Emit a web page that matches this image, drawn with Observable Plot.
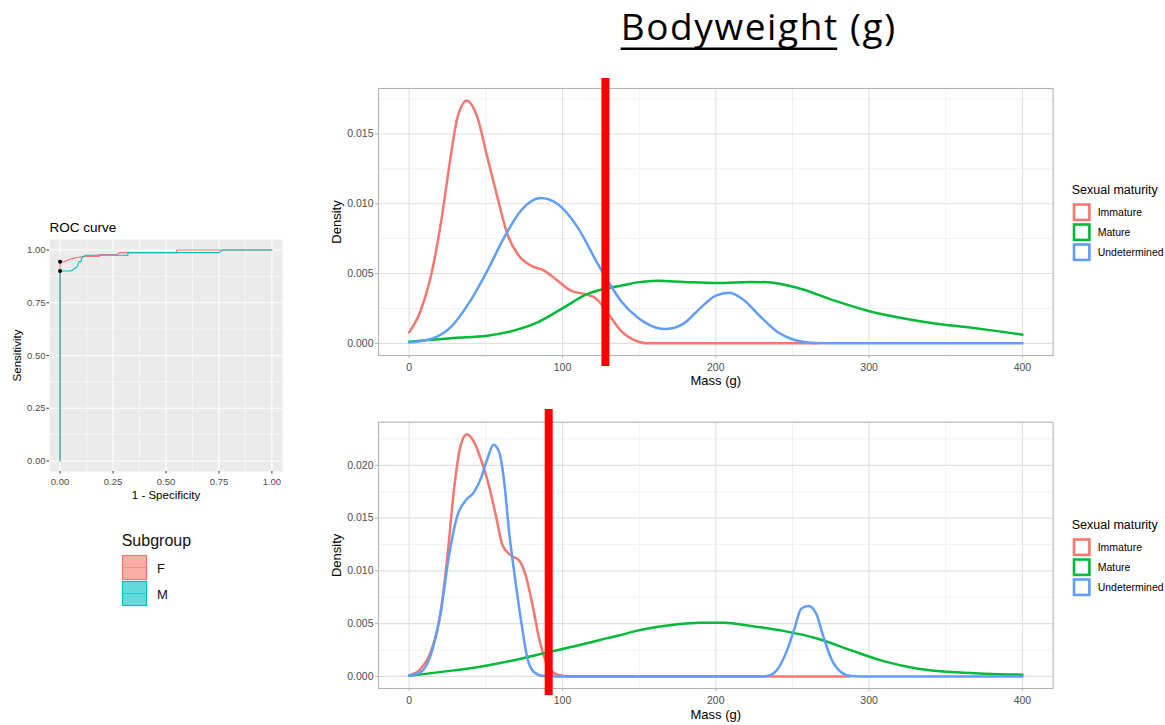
<!DOCTYPE html>
<html>
<head>
<meta charset="utf-8">
<script src="https://cdn.jsdelivr.net/npm/d3@7"></script>
<script src="https://cdn.jsdelivr.net/npm/@observablehq/plot@0.6"></script>
<style>
  html, body { margin: 0; padding: 0; background: #fff; }
  #page { position: relative; width: 1165px; height: 725px; overflow: hidden; font-family: 'Liberation Sans', Arial, sans-serif; }
  .panel { position: absolute; }
  #overlay { position: absolute; left: 0; top: 0; pointer-events: none; }
</style>
</head>
<body>
<div id="page"></div>
<script>
// ---- Slide title ----
const titleMain = "Bodyweight";
const titleUnit = "(g)";

// ---- Density panels: sexual maturity classes ----
const maturityClasses = ["Immature", "Mature", "Undetermined"];
const maturityColors = ["#F8766D", "#00BA38", "#619CFF"];
const maturityLegendTitle = "Sexual maturity";
const massLabel = "Mass (g)";
const densityLabel = "Density";
const massTicks = [0, 100, 200, 300, 400];
const massMinor = [50, 150, 250, 350];

// Upper panel (mass, density)
const topImmature = [[0,0.00079],[7.5,0.00234],[14,0.00473],[20.6,0.00855],[27,0.01332],[31.5,0.01619],[37.6,0.01739],[44.5,0.01619],[51,0.01332],[57.6,0.01046],[64,0.00784],[70.7,0.0064],[79.4,0.00557],[88,0.00521],[96.8,0.00449],[105.5,0.00378],[114,0.00354],[120.7,0.0033],[127,0.00258],[131.6,0.00186],[138,0.00091],[146.8,0.00024],[155.6,0],[267,0]];
const topMature = [[0,0.00012],[29,0.00039],[51,0.00055],[66.3,0.00086],[83.7,0.0015],[101,0.00258],[116.4,0.00354],[127.3,0.0039],[138,0.00413],[149,0.00437],[162,0.00449],[179.5,0.0044],[201,0.00432],[223,0.0044],[234,0.00437],[244.8,0.0042],[255.7,0.0039],[277.5,0.00306],[299,0.00234],[321,0.00182],[342.8,0.00143],[364.6,0.00115],[386,0.00084],[400,0.00062]];
const topUndetermined = [[0,0.00007],[14,0.00031],[27,0.00115],[40,0.00306],[51,0.00521],[62,0.00759],[72.8,0.0095],[85.9,0.01041],[96.8,0.00998],[109.9,0.00831],[123,0.00569],[129.5,0.00449],[138,0.00306],[149,0.00186],[158,0.00125],[166.4,0.00103],[173,0.00112],[179.5,0.00145],[190.4,0.00258],[200,0.00342],[208.9,0.00363],[218.7,0.00306],[229.6,0.00186],[240.5,0.00079],[251.3,0.00024],[264,0.00003],[280,0],[400,0]];
const topDensityTicks = [0, 0.005, 0.010, 0.015];
const topDensityMinor = [0.0025, 0.0075, 0.0125, 0.0175];

// Lower panel (mass, density)
const bottomImmature = [[0,0.0001],[7.5,0.00073],[14,0.0023],[20.6,0.0061],[25,0.01147],[29.3,0.0178],[33.6,0.0219],[37.6,0.02294],[42.3,0.0222],[46.7,0.02063],[52,0.0181],[56.5,0.01526],[60.9,0.01242],[66.3,0.01147],[71.7,0.011],[76,0.00957],[80.5,0.00673],[84.8,0.00357],[90.3,0.00104],[96.8,0.00016],[105,0],[287,0]];
const bottomMature = [[0,0.00006],[29.3,0.00057],[51,0.00104],[72.8,0.00168],[91,0.0023],[105.5,0.00278],[125,0.00348],[138,0.00392],[146.8,0.00427],[168.6,0.00483],[190.4,0.00509],[205.6,0.00509],[223,0.00477],[244.8,0.00429],[266.6,0.00357],[288.4,0.00246],[310,0.00142],[332,0.00073],[353.7,0.00041],[375.4,0.00026],[400,0.00016]];
const bottomUndetermined = [[0,0.00006],[7.5,0.0004],[14,0.002],[20.6,0.0061],[26,0.01147],[31.5,0.01526],[36.9,0.01668],[42.3,0.01747],[46.7,0.01874],[51,0.02063],[55,0.02196],[58.7,0.02126],[62,0.01842],[65.2,0.01368],[68.5,0.00989],[72.8,0.00547],[77.2,0.00168],[81.5,0.0004],[88,0.00003],[95,0],[230,0],[233.3,0.00003],[240.5,0.00073],[246,0.0023],[251.3,0.00452],[255.7,0.00642],[260.5,0.00667],[265.5,0.00594],[269.9,0.00389],[275.3,0.00168],[281.8,0.0004],[288.4,0.00003],[295,0],[400,0]];
const bottomDensityTicks = [0, 0.005, 0.010, 0.015, 0.020];
const bottomDensityMinor = [0.0025, 0.0075, 0.0125, 0.0175, 0.0225];

// Mass cut-offs marked on each panel
const massCutoffs = [128, 91];

// ---- ROC curve ----
const rocTitle = "ROC curve";
const rocXLabel = "1 - Specificity";
const rocYLabel = "Sensitivity";
const rocSubgroups = ["F", "M"];
const rocColors = ["#F8766D", "#00BFC4"];
const rocLegendTitle = "Subgroup";
const rocTicks = [0, 0.25, 0.5, 0.75, 1];
const rocMinor = [0.125, 0.375, 0.625, 0.875];
// (1 - specificity, sensitivity)
const rocF = [[0,0],[0,0.944],[0.02,0.944],[0.05,0.957],[0.08,0.965],[0.12,0.97],[0.185,0.97],[0.185,0.979],[0.27,0.979],[0.28,0.988],[0.55,0.988],[0.55,1],[1,1]];
const rocM = [[0,0],[0,0.901],[0.05,0.901],[0.08,0.92],[0.09,0.945],[0.098,0.945],[0.103,0.965],[0.12,0.975],[0.32,0.975],[0.32,0.988],[0.75,0.988],[0.77,1],[1,1]];
const rocBest = [[0,0.944],[0,0.901]];

const page = document.getElementById("page");
const sansFont = "'Liberation Sans', Arial, sans-serif";

function place(el, left, top) {
  const div = document.createElement("div");
  div.className = "panel";
  div.style.left = left + "px";
  div.style.top = top + "px";
  div.appendChild(el);
  page.appendChild(div);
}

function densityPanel(seriesList, cutoff, cfg) {
  const lines = seriesList.map((s, i) => Plot.line(s, {
    x: d => d[0], y: d => d[1], stroke: maturityColors[i], strokeWidth: 2.5, curve: "monotone-x"
  }));
  return Plot.plot({
    width: 740,
    height: cfg.height,
    marginLeft: 58, marginRight: 7.4, marginTop: cfg.marginTop, marginBottom: cfg.marginBottom,
    x: {domain: [-20, 420]},
    y: {domain: cfg.yDomain},
    style: {fontFamily: sansFont, fontSize: "10.5px", color: "#4D4D4D", background: "transparent", overflow: "visible"},
    marks: [
      Plot.gridX(massMinor, {stroke: "#EDEDED", strokeOpacity: 1, strokeWidth: 0.7}),
      Plot.gridY(cfg.minor, {stroke: "#EDEDED", strokeOpacity: 1, strokeWidth: 0.7}),
      Plot.gridX(massTicks, {stroke: "#E0E0E0", strokeOpacity: 1, strokeWidth: 1.1}),
      Plot.gridY(cfg.ticks, {stroke: "#E0E0E0", strokeOpacity: 1, strokeWidth: 1.1}),
      Plot.frame({stroke: "#B3B3B3", strokeWidth: 1.1}),
      Plot.axisX(massTicks, {tickSize: 3, tickPadding: 5, stroke: "#B3B3B3", color: "#4D4D4D", label: null, fontSize: 10.5}),
      Plot.axisY(cfg.ticks, {tickSize: 3, tickPadding: 2, stroke: "#B3B3B3", color: "#4D4D4D", label: null, fontSize: 10.5, tickFormat: d3.format(".3f")}),
      ...lines,
      Plot.ruleX([cutoff], {stroke: "#FF0000", strokeWidth: 8, insetTop: cfg.ruleTop, insetBottom: cfg.ruleBottom}),
      Plot.text([massLabel], {frameAnchor: "bottom", lineAnchor: "middle", textAnchor: "middle", dy: cfg.xLabelDy, fontSize: 13, fill: "#000"}),
      Plot.text([densityLabel], {frameAnchor: "left", lineAnchor: "middle", textAnchor: "middle", dx: -41.5, rotate: -90, fontSize: 13, fill: "#000"})
    ]
  });
}

place(densityPanel([topImmature, topMature, topUndetermined], massCutoffs[0], {
  height: 320, marginTop: 18, marginBottom: 35,
  yDomain: [-0.00087, 0.01826], ticks: topDensityTicks, minor: topDensityMinor,
  ruleTop: -10, ruleBottom: -11, xLabelDy: 25.5
}), 320, 70);

place(densityPanel([bottomImmature, bottomMature, bottomUndetermined], massCutoffs[1], {
  height: 325, marginTop: 21.7, marginBottom: 37,
  yDomain: [-0.001147, 0.02409], ticks: bottomDensityTicks, minor: bottomDensityMinor,
  ruleTop: -12.7, ruleBottom: -7, xLabelDy: 26.5
}), 320, 400);

// ROC panel
const roc = Plot.plot({
  width: 290, height: 290,
  marginLeft: 49, marginRight: 8, marginTop: 24, marginBottom: 34,
  x: {domain: [-0.05, 1.05]},
  y: {domain: [-0.05, 1.05]},
  style: {fontFamily: sansFont, fontSize: "9.5px", color: "#4D4D4D", background: "transparent", overflow: "visible"},
  marks: [
    Plot.frame({fill: "#EBEBEB", stroke: "none"}),
    Plot.gridX(rocMinor, {stroke: "#FFFFFF", strokeOpacity: 1, strokeWidth: 0.55}),
    Plot.gridY(rocMinor, {stroke: "#FFFFFF", strokeOpacity: 1, strokeWidth: 0.55}),
    Plot.gridX(rocTicks, {stroke: "#FFFFFF", strokeOpacity: 1, strokeWidth: 1.1}),
    Plot.gridY(rocTicks, {stroke: "#FFFFFF", strokeOpacity: 1, strokeWidth: 1.1}),
    Plot.axisX(rocTicks, {tickSize: 2.5, tickPadding: 4.5, stroke: "#333333", color: "#4D4D4D", label: null, fontSize: 9.5, tickFormat: d3.format(".2f")}),
    Plot.axisY(rocTicks, {tickSize: 2.5, tickPadding: 1.5, stroke: "#333333", color: "#4D4D4D", label: null, fontSize: 9.5, tickFormat: d3.format(".2f")}),
    Plot.line(rocF, {x: d => d[0], y: d => d[1], stroke: rocColors[0], strokeWidth: 1.1}),
    Plot.line(rocM, {x: d => d[0], y: d => d[1], stroke: rocColors[1], strokeWidth: 1.1}),
    Plot.dot(rocBest, {x: d => d[0], y: d => d[1], r: 2, fill: "#000", stroke: "none"}),
    Plot.text([rocTitle], {frameAnchor: "top-left", textAnchor: "start", lineAnchor: "middle", dy: -12.3, fontSize: 13.5, fill: "#000"}),
    Plot.text([rocXLabel], {frameAnchor: "bottom", textAnchor: "middle", lineAnchor: "middle", dy: 24, fontSize: 11.5, fill: "#000"}),
    Plot.text([rocYLabel], {frameAnchor: "left", textAnchor: "middle", lineAnchor: "middle", dx: -31.7, rotate: -90, fontSize: 11.5, fill: "#000"})
  ]
});
place(roc, 0, 215);

// ---- Title and legends ----
const svg = d3.select(page).append("svg")
  .attr("id", "overlay").attr("width", 1165).attr("height", 725);

const title = svg.append("text")
  .attr("x", 620.7).attr("y", 40)
  .attr("font-family", "'Open Sans', sans-serif").attr("font-size", 37)
  .attr("letter-spacing", 1.6).attr("fill", "#000");
title.append("tspan").text(titleMain);
title.append("tspan").text(" " + titleUnit);
const mainWidth = title.node().getSubStringLength(0, titleMain.length);
svg.append("line")
  .attr("x1", 620.7).attr("x2", 620.7 + mainWidth - 1.6)
  .attr("y1", 48.8).attr("y2", 48.8)
  .attr("stroke", "#000").attr("stroke-width", 2.5);

function maturityLegend(titleY) {
  const g = svg.append("g").attr("font-family", sansFont);
  g.append("text").attr("x", 1071.7).attr("y", titleY).attr("dominant-baseline", "central")
    .attr("font-size", 12.5).attr("fill", "#000").text(maturityLegendTitle);
  maturityClasses.forEach((name, i) => {
    const top = titleY + 14.5 + i * 20;
    g.append("rect").attr("x", 1074).attr("y", top).attr("width", 15.4).attr("height", 15.4)
      .attr("fill", "#fff").attr("stroke", maturityColors[i]).attr("stroke-width", 2.6);
    g.append("text").attr("x", 1097.7).attr("y", top + 7.7).attr("dominant-baseline", "central")
      .attr("font-size", 10.5).attr("fill", "#000").text(name);
  });
}
maturityLegend(190);
maturityLegend(525);

// Subgroup legend for the ROC curves
(function () {
  const g = svg.append("g").attr("font-family", sansFont);
  g.append("text").attr("x", 121.7).attr("y", 540).attr("dominant-baseline", "central")
    .attr("font-size", 16).attr("fill", "#111").text(rocLegendTitle);
  rocSubgroups.forEach((name, i) => {
    const top = 555.5 + i * 26;
    g.append("rect").attr("x", 122.5).attr("y", top).attr("width", 24).attr("height", 24)
      .attr("fill", rocColors[i]).attr("fill-opacity", 0.6)
      .attr("stroke", rocColors[i]).attr("stroke-width", 1.2);
    g.append("line").attr("x1", 122.5).attr("x2", 146.5).attr("y1", top + 12).attr("y2", top + 12)
      .attr("stroke", rocColors[i]).attr("stroke-opacity", 0.6).attr("stroke-width", 1);
    g.append("text").attr("x", 157).attr("y", top + 12.5).attr("dominant-baseline", "central")
      .attr("font-size", 13).attr("fill", "#111").text(name);
  });
})();
</script>
</body>
</html>
